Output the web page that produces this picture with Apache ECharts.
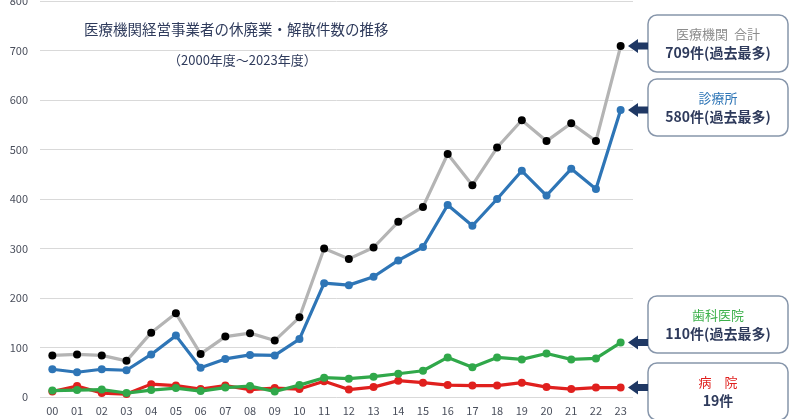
<!DOCTYPE html>
<html>
<head>
<meta charset="utf-8">
<script src="https://cdn.jsdelivr.net/npm/echarts@6/dist/echarts.min.js"></script>
<style>
  html, body { margin: 0; background: #fff; }
  #chart { width: 800px; height: 419px; }
</style>
</head>
<body>
<div id="chart"></div>
<script>
  // 年度 (2000〜2023)
  const years = ['00', '01', '02', '03', '04', '05', '06', '07', '08', '09', '10', '11',
    '12', '13', '14', '15', '16', '17', '18', '19', '20', '21', '22', '23']
  // 医療機関 合計
  const total = [84, 86, 84, 73, 130, 169, 87, 122, 129, 114, 161, 300,
    279, 302, 354, 384, 491, 428, 504, 559, 517, 553, 517, 709]
  // 診療所
  const clinic = [56, 50, 56, 54, 86, 124, 59, 77, 85, 84, 117, 230,
    226, 243, 276, 303, 388, 346, 400, 457, 407, 461, 420, 580]
  // 歯科医院
  const dental = [13, 14, 15, 8, 14, 18, 12, 19, 22, 11, 24, 39,
    37, 41, 47, 53, 80, 60, 80, 76, 88, 76, 78, 110]
  // 病院
  const hospital = [11, 22, 8, 6, 26, 23, 16, 23, 15, 18, 16, 32,
    15, 20, 33, 29, 24, 23, 23, 29, 20, 16, 19, 19]

  const FONT = '"Noto Sans CJK JP", "Noto Sans", sans-serif'
  const NAVY = '#1f3864'

  // 吹き出し: 名称, 色, 件数表示, ボックス上端
  const callouts = [
    {name: '医療機関  合計', color: '#8c8c8c', text: '709件(過去最多)', data: total, top: 15},
    {name: '診療所', color: '#2e75b6', text: '580件(過去最多)', data: clinic, top: 79},
    {name: '歯科医院', color: '#3cb04a', text: '110件(過去最多)', data: dental, top: 296},
    {name: '病　院', color: '#e0201e', text: '19件', data: hospital, top: 363}
  ]

  const chart = echarts.init(document.getElementById('chart'))

  function lineSeries(name, data, lineColor, dotColor, z) {
    return {
      name: name,
      type: 'line',
      data: data,
      z: z,
      symbol: 'circle',
      symbolSize: 8,
      itemStyle: {color: dotColor},
      lineStyle: {color: lineColor, width: 3.2},
      animation: false
    }
  }

  chart.setOption({
    backgroundColor: '#fff',
    grid: {left: 40, right: 167, top: 1, bottom: 22, outerBoundsMode: 'none'},
    xAxis: {
      type: 'category',
      data: years,
      boundaryGap: true,
      axisLine: {show: false},
      axisTick: {show: false},
      axisLabel: {color: '#4a4f5c', fontSize: 11, fontFamily: FONT, margin: 8}
    },
    yAxis: {
      type: 'value',
      min: 0,
      max: 800,
      interval: 100,
      axisLine: {show: false},
      axisTick: {show: false},
      axisLabel: {color: '#4a4f5c', fontSize: 11, fontFamily: FONT, margin: 12},
      splitLine: {lineStyle: {color: '#d9d9d9', width: 1}}
    },
    series: [
      lineSeries('病院', hospital, '#e0201e', '#e0201e', 2),
      lineSeries('歯科医院', dental, '#30a84a', '#30a84a', 3),
      lineSeries('診療所', clinic, '#2e75b6', '#2e75b6', 4),
      lineSeries('医療機関 合計', total, '#b4b4b4', '#000', 5)
    ]
  })

  // 注釈 (タイトル, 吹き出し, 矢印)
  const graphics = [
    {
      type: 'text', left: 84, top: 22,
      style: {text: '医療機関経営事業者の休廃業・解散件数の推移', fill: '#2f3b5c', font: '14.5px ' + FONT}
    },
    {
      type: 'text', left: 168, top: 54,
      style: {text: '（2000年度～2023年度）', fill: '#2f3b5c', font: '13px ' + FONT}
    }
  ]

  const last = years.length - 1
  callouts.forEach(c => {
    const pt = chart.convertToPixel({gridIndex: 0}, [years[last], c.data[last]])
    const y = pt[1]
    graphics.push({
      type: 'rect',
      shape: {x: 648, y: c.top, width: 140, height: 57, r: 9},
      style: {fill: '#fff', stroke: '#8796ab', lineWidth: 1.5}
    })
    graphics.push({
      type: 'text',
      style: {x: 718, y: c.top + 19, text: c.name, fill: c.color, font: '13px ' + FONT,
        align: 'center', verticalAlign: 'middle'}
    })
    graphics.push({
      type: 'text',
      style: {x: 718, y: c.top + 38, text: c.text, fill: '#2f3b5c', font: 'bold 14px ' + FONT,
        align: 'center', verticalAlign: 'middle'}
    })
    graphics.push({
      type: 'polygon',
      shape: {
        points: [[628, y], [638, y - 7], [638, y - 3.5], [648, y - 3.5],
          [648, y + 3.5], [638, y + 3.5], [638, y + 7]]
      },
      style: {fill: NAVY}
    })
  })

  chart.setOption({graphic: graphics})
</script>
</body>
</html>
